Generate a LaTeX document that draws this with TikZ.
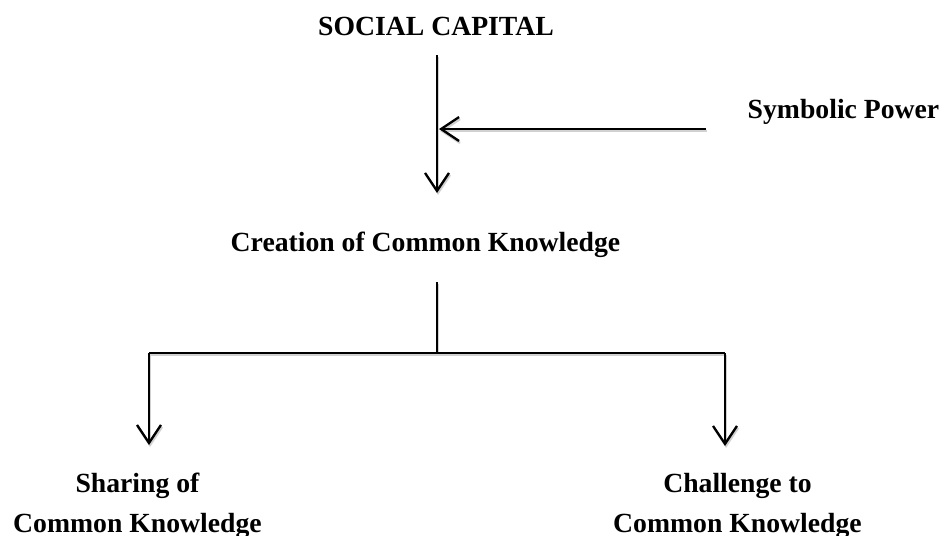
\documentclass[tikz,border=0pt]{standalone}
\usepackage{fontspec}
\setmainfont{Liberation Serif}
\usetikzlibrary{arrows.meta}
\begin{document}
\begin{tikzpicture}[x=0.5pt,y=-0.5pt,
  lbl/.style={font=\fontsize{13.85}{20}\selectfont\bfseries, inner sep=0pt, align=center, anchor=base},
  conn/.style={draw=black, line width=1.15pt, line cap=butt,
    preaction={draw=black!18, line width=1.15pt, transform canvas={shift={(0.5pt,-1pt)}}}},
  arr/.style={conn, -{Straight Barb[length=9pt,width=12pt,line width=1.15pt]}}]
\useasboundingbox (0,0) rectangle (944,536);
% labels
\node[lbl] (sc) at (436,35) {SOCIAL CAPITAL};
\node[lbl] (sp) at (843.5,118) {Symbolic Power};
\node[lbl] (cc) at (425.5,251) {Creation of Common Knowledge};
\node[lbl] (sh) at (137.5,532) {Sharing of\\Common Knowledge};
\node[lbl] (ch) at (737.5,532) {Challenge to\\Common Knowledge};
% connector points
\coordinate (a0) at (437,55);
\coordinate (a1) at (437,193);
\coordinate (b0) at (706,129);
\coordinate (b1) at (439,129);
\coordinate (t0) at (437,282);
\coordinate (t1) at (437,353);
\coordinate (l0) at (149,353);
\coordinate (l1) at (149,445);
\coordinate (r0) at (725,353);
\coordinate (r1) at (725,446);
% connectors
\draw[arr] (a0) -- (a1);
\draw[arr] (b0) -- (b1);
\draw[conn] (t0) -- (t1);
\draw[conn] (l0) -- (r0);
\draw[arr] (l0) -- (l1);
\draw[arr] (r0) -- (r1);
\end{tikzpicture}
\end{document}
